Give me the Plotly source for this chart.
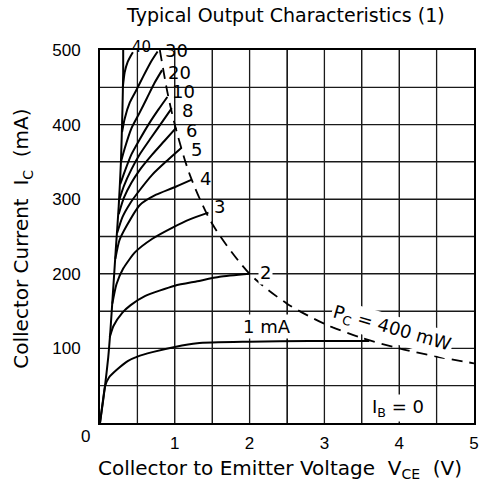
import plotly.graph_objects as go

# ---------------- data ----------------
# common steep rise (saturation bundle)
bundle_v = [0, 0.035, 0.065, 0.11, 0.14, 0.17, 0.21, 0.25, 0.28, 0.30, 0.31, 0.31]
bundle_i = [0, 25, 48, 88, 125, 170, 231, 290, 350, 420, 470, 500]

ib1_v = [0, 0.035, 0.07, 0.12, 0.22, 0.37, 0.5, 0.7, 1.0, 1.3, 2.0, 2.8, 3.6]
ib1_i = [0, 27, 50, 61, 71, 83, 89, 95, 102, 107, 109, 110, 110]

ib2_v = [0.13, 0.18, 0.3, 0.41, 0.6, 1.0, 1.3, 1.6, 2.0]
ib2_i = [115, 130, 148, 158, 170, 184, 190, 196, 200]

ib3_v = [0.165, 0.22, 0.31, 0.47, 0.7, 0.97, 1.2, 1.45]
ib3_i = [160, 186, 207, 229, 247, 262, 273, 282]

ib4_v = [0.205, 0.26, 0.36, 0.53, 0.75, 0.97, 1.22]
ib4_i = [220, 245, 265, 292, 306, 315, 326]

ib5_v = [0.23, 0.3, 0.4, 0.53, 0.7, 0.9, 1.09]
ib5_i = [255, 276, 294, 312, 333, 352, 369]

ib6_v = [0.25, 0.32, 0.42, 0.53, 0.7, 0.86, 1.02]
ib6_i = [280, 302, 322, 339, 360, 378, 396]

ib8_v = [0.26, 0.32, 0.42, 0.53, 0.68, 0.82, 0.96]
ib8_i = [300, 318, 340, 360, 382, 402, 422]

ib10_v = [0.27, 0.33, 0.42, 0.53, 0.66, 0.78, 0.9]
ib10_i = [320, 337, 360, 380, 402, 420, 437]

ib20_v = [0.28, 0.33, 0.42, 0.53, 0.63, 0.73, 0.83]
ib20_i = [350, 368, 395, 416, 436, 456, 473]

ib30_v = [0.295, 0.33, 0.4, 0.49, 0.58, 0.68, 0.77]
ib30_i = [390, 408, 430, 447, 465, 484, 498]

ib40_v = [0.305, 0.33, 0.37, 0.41, 0.44]
ib40_i = [450, 470, 484, 492, 497]

pc_v = [0.8, 0.9, 1.0, 1.2, 1.5, 2.0, 2.5, 3.0, 3.5, 4.0, 4.5, 5.0]
pc_i = [500, 444, 400, 333, 267, 200, 160, 133, 114, 100, 89, 80]

# grid positions and tick labels (labels only on whole volts / hundreds of mA)
x_grid = [0, 0.5, 1, 1.5, 2, 2.5, 3, 3.5, 4, 4.5, 5]
x_ticktext = ["", "", "1", "", "2", "", "3", "", "4", "", "5"]
y_grid = [0, 50, 100, 150, 200, 250, 300, 350, 400, 450, 500]
y_ticktext = ["", "", "100", "", "200", "", "300", "", "400", "", "500"]

curve_labels = ["40", "30", "20", "10", "8", "6", "5", "4", "3", "2", "1 mA"]
label_v = [0.55, 1.02, 1.06, 1.12, 1.17, 1.22, 1.29, 1.41, 1.60, 2.21, 2.23]
label_i = [500, 499, 470, 444, 419, 392, 367, 328, 290, 202, 130]

TICKFONT = "Liberation Sans, Arial, Helvetica, sans-serif"
FONT = "DejaVu Sans, Liberation Sans, Arial, sans-serif"
GRID = "#1a1a1a"

fig = go.Figure()

# grid lines as line traces at the grid positions (beneath the curves)
for gx in x_grid[1:-1]:
    fig.add_trace(go.Scatter(x=[gx, gx], y=[y_grid[0], y_grid[-1]], mode="lines",
                             line=dict(color=GRID, width=1.3),
                             hoverinfo="skip", showlegend=False))
for gy in y_grid[1:-1]:
    fig.add_trace(go.Scatter(x=[x_grid[0], x_grid[-1]], y=[gy, gy], mode="lines",
                             line=dict(color=GRID, width=1.3),
                             hoverinfo="skip", showlegend=False))

curves = [(bundle_v, bundle_i), (ib1_v, ib1_i), (ib2_v, ib2_i), (ib3_v, ib3_i),
          (ib4_v, ib4_i), (ib5_v, ib5_i), (ib6_v, ib6_i), (ib8_v, ib8_i),
          (ib10_v, ib10_i), (ib20_v, ib20_i), (ib30_v, ib30_i), (ib40_v, ib40_i)]
for v, i in curves:
    fig.add_trace(go.Scatter(x=v, y=i, mode="lines",
                             line=dict(color="black", width=2, shape="spline", smoothing=0.6),
                             hoverinfo="skip", showlegend=False))

fig.add_trace(go.Scatter(x=pc_v, y=pc_i, mode="lines",
                         line=dict(color="black", width=1.8, dash="11px,7px",
                                   shape="spline", smoothing=0.8),
                         hoverinfo="skip", showlegend=False))

annotations = []
for t, v, i in zip(curve_labels, label_v, label_i):
    a = dict(x=v, y=i, xref="x", yref="y", text=t, showarrow=False,
             xanchor="center", yanchor="middle",
             font=dict(family=FONT, size=15 if t == "40" else 18, color="black"))
    if t == "40":
        a["yshift"] = 3
    if t in ("2", "1 mA"):
        a["bgcolor"] = "white"
    annotations.append(a)

annotations += [
    dict(x=3.90, y=126, xref="x", yref="y", text="P<sub>C</sub> = 400 mW", showarrow=False,
         xanchor="center", yanchor="middle",
         textangle=16, font=dict(family=FONT, size=18, color="black"), bgcolor="white"),
    dict(x=3.99, y=20, xref="x", yref="y", text="I<sub>B</sub> = 0", showarrow=False,
         xanchor="center", yanchor="middle",
         font=dict(family=FONT, size=18, color="black"), bgcolor="white"),
    dict(x=-0.04, y=-0.0375, xref="paper", yref="paper", text="0", showarrow=False,
         xanchor="center", yanchor="middle",
         font=dict(family=TICKFONT, size=17, color="black")),
    dict(x=0.481, y=-0.123, xref="paper", yref="paper",
         text="Collector to Emitter Voltage\u00a0\u00a0V<sub>CE</sub>\u00a0\u00a0(V)",
         xanchor="center", yanchor="middle",
         showarrow=False, font=dict(family=FONT, size=20, color="black")),
    dict(x=-0.207, y=0.493, xref="paper", yref="paper",
         text="Collector Current\u00a0\u00a0I<sub>C</sub>\u00a0\u00a0(mA)", textangle=-90,
         xanchor="center", yanchor="middle",
         showarrow=False, font=dict(family=FONT, size=20, color="black")),
    dict(x=0.497, y=1.094, xref="paper", yref="paper",
         text="Typical Output Characteristics (1)", showarrow=False,
         xanchor="center", yanchor="middle",
         font=dict(family=FONT, size=19, color="black")),
]

fig.update_layout(
    width=491, height=487,
    margin=dict(l=100, r=15, t=50, b=64),
    paper_bgcolor="white", plot_bgcolor="white",
    annotations=annotations,
    font=dict(family=TICKFONT, size=17, color="black"),
    xaxis=dict(range=[0, 5], tickmode="array", tickvals=x_grid, ticktext=x_ticktext,
               showgrid=True, gridcolor=GRID, gridwidth=1,
               showline=True, mirror=True, linecolor="black", linewidth=2,
               zeroline=False, ticks="outside", ticklen=4, tickcolor="rgba(0,0,0,0)",
               tickfont=dict(family=TICKFONT, size=17, color="black")),
    yaxis=dict(range=[0, 500], tickmode="array", tickvals=y_grid, ticktext=y_ticktext,
               showgrid=True, gridcolor=GRID, gridwidth=1,
               showline=True, mirror=True, linecolor="black", linewidth=2,
               zeroline=False, ticks="outside", ticklen=14, tickcolor="rgba(0,0,0,0)",
               tickfont=dict(family=TICKFONT, size=17, color="black")),
)

fig.write_html("out.html")
